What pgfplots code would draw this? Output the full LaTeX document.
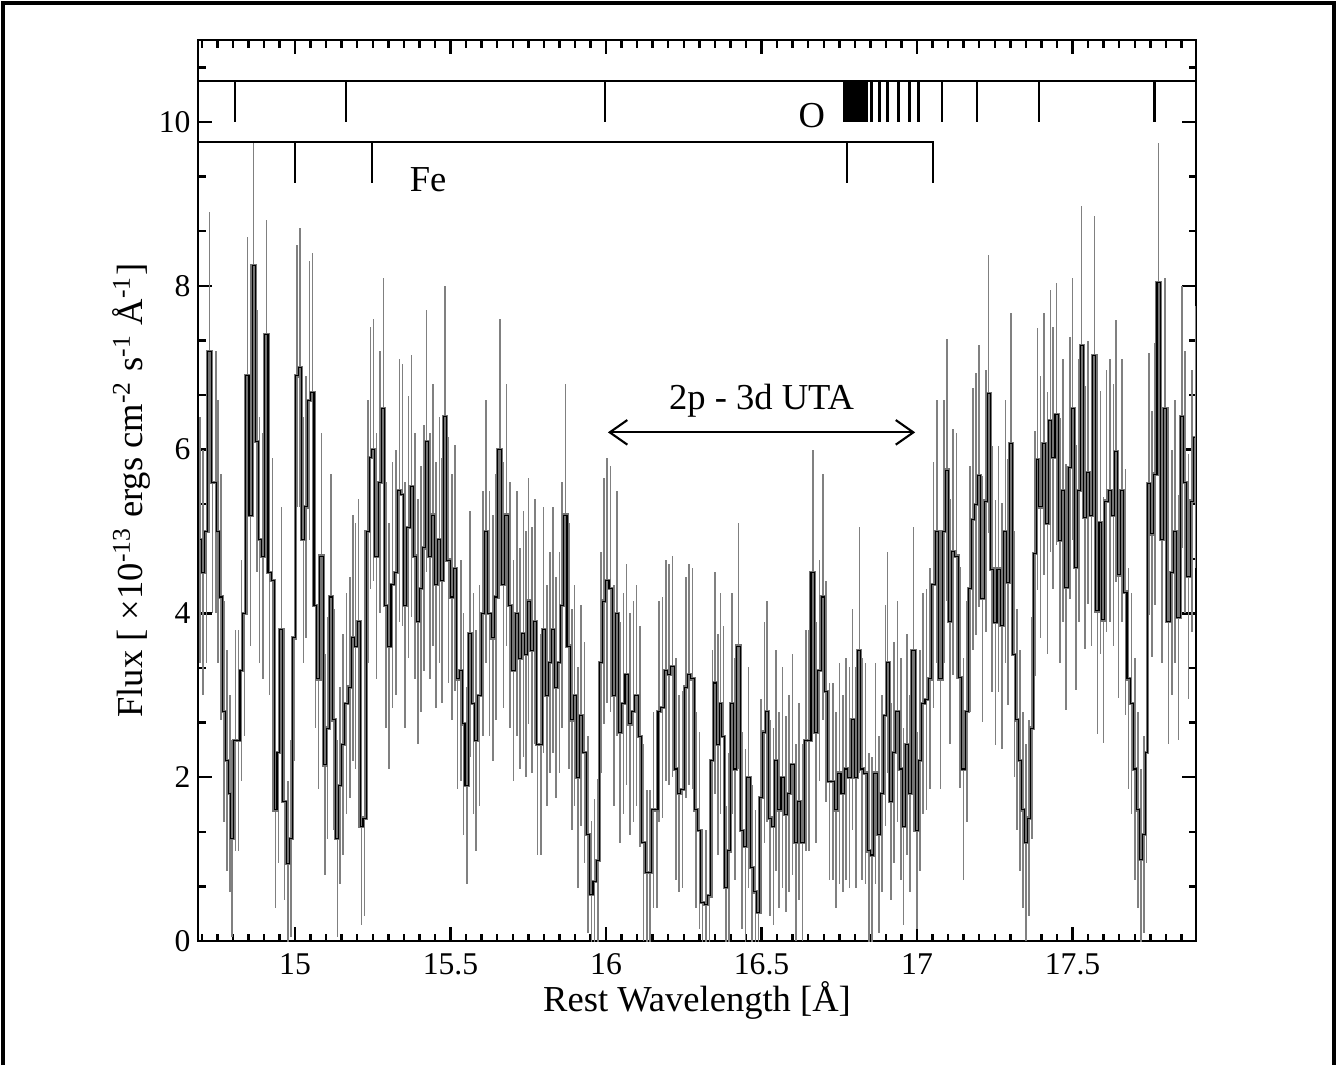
\documentclass[border=0pt]{standalone}
\usepackage{fontspec}
\setmainfont{Liberation Serif}
\usepackage{pgfplots}
\pgfplotsset{compat=1.18}
\usepackage{pgfplotstable}
\usetikzlibrary{arrows.meta}

\pgfplotstableread{
x y e
14.695 4.9 1.5
14.705 4.5 1.5
14.715 5.0 1.6
14.725 7.2 1.7
14.735 5.6 1.6
14.745 5.6 1.6
14.753 5.0 1.6
14.762 4.2 1.5
14.771 2.8 1.35
14.781 2.2 1.35
14.790 1.8 1.2
14.798 1.25 1.2
14.808 2.45 1.35
14.818 2.45 1.35
14.828 3.3 1.35
14.837 4.0 1.5
14.847 6.9 1.7
14.857 5.2 1.6
14.867 8.25 1.5
14.877 6.1 1.6
14.886 4.9 1.5
14.897 4.7 1.5
14.908 7.4 1.4
14.918 4.5 1.5
14.928 4.4 1.5
14.937 1.6 1.2
14.947 2.3 1.35
14.956 3.8 1.5
14.966 1.7 1.2
14.977 0.95 1.0
14.987 1.25 1.2
14.998 3.7 1.5
15.007 6.9 1.6
15.016 7.0 1.7
15.027 4.9 1.5
15.036 5.3 1.6
15.046 6.6 1.7
15.056 6.7 1.7
15.066 4.1 1.5
15.075 3.2 1.35
15.085 4.7 1.5
15.096 2.15 1.35
15.105 2.6 1.35
15.115 4.2 1.5
15.126 2.7 1.35
15.136 1.25 1.2
15.145 1.9 1.2
15.155 2.4 1.35
15.165 2.9 1.35
15.176 3.1 1.35
15.186 3.7 1.5
15.195 3.6 1.5
15.204 3.9 1.5
15.214 1.4 1.2
15.223 1.5 1.2
15.234 5.0 1.6
15.242 5.9 1.6
15.252 6.0 1.6
15.262 4.7 1.5
15.273 5.6 1.6
15.284 6.5 1.6
15.293 4.1 1.5
15.303 3.6 1.5
15.314 4.35 1.5
15.325 4.5 1.5
15.336 5.5 1.6
15.345 5.45 1.6
15.354 4.1 1.5
15.365 5.05 1.6
15.375 5.55 1.6
15.386 4.7 1.5
15.395 3.9 1.5
15.405 4.3 1.5
15.415 4.8 1.5
15.423 6.1 1.6
15.434 4.7 1.5
15.443 5.2 1.6
15.454 4.35 1.5
15.464 4.9 1.5
15.473 4.4 1.5
15.483 6.4 1.6
15.493 4.65 1.5
15.504 4.2 1.5
15.515 4.55 1.5
15.523 3.2 1.35
15.533 3.3 1.35
15.541 2.65 1.35
15.552 1.9 1.2
15.563 3.75 1.5
15.574 2.9 1.35
15.582 2.45 1.35
15.593 3.0 1.35
15.604 4.0 1.5
15.614 5.0 1.6
15.625 4.0 1.5
15.636 3.7 1.5
15.646 4.2 1.5
15.659 6.0 1.6
15.670 4.35 1.5
15.680 5.2 1.6
15.691 4.1 1.5
15.702 3.3 1.35
15.713 4.0 1.5
15.723 3.45 1.35
15.734 3.75 1.5
15.743 3.5 1.5
15.751 4.15 1.5
15.761 3.55 1.5
15.772 3.9 1.5
15.780 2.4 1.35
15.791 2.4 1.35
15.799 3.8 1.5
15.810 3.0 1.35
15.820 3.4 1.35
15.830 3.8 1.5
15.839 3.1 1.35
15.850 3.4 1.35
15.858 4.1 1.5
15.869 5.2 1.6
15.880 3.6 1.5
15.891 2.7 1.35
15.899 3.0 1.35
15.910 2.0 1.35
15.920 2.75 1.35
15.931 2.3 1.35
15.942 1.3 1.2
15.953 0.57 0.9
15.963 0.73 1.0
15.974 0.98 1.0
15.983 3.4 1.35
15.993 4.15 1.5
16.004 4.4 1.5
16.015 4.3 1.5
16.025 3.0 1.35
16.036 4.0 1.5
16.045 2.55 1.35
16.056 2.9 1.35
16.066 3.25 1.35
16.077 2.65 1.35
16.088 2.8 1.35
16.098 3.0 1.35
16.109 2.5 1.35
16.120 1.2 1.2
16.131 0.84 1.0
16.141 0.84 1.0
16.152 1.6 1.2
16.163 1.6 1.2
16.171 2.8 1.35
16.182 2.85 1.35
16.192 3.3 1.35
16.203 3.25 1.35
16.214 3.35 1.35
16.225 2.1 1.35
16.235 1.8 1.2
16.246 1.85 1.2
16.257 3.1 1.35
16.267 3.25 1.35
16.278 3.2 1.35
16.289 1.6 1.2
16.300 1.35 1.2
16.310 0.47 0.9
16.321 0.45 0.9
16.332 0.55 0.9
16.342 2.2 1.35
16.350 3.15 1.35
16.360 2.4 1.35
16.368 2.9 1.35
16.377 2.5 1.35
16.386 0.65 1.0
16.396 1.1 1.2
16.405 2.9 1.35
16.415 2.1 1.35
16.426 3.6 1.5
16.437 1.35 1.2
16.448 1.15 1.2
16.458 2.0 1.35
16.469 0.9 1.0
16.480 0.6 1.0
16.490 0.35 0.9
16.499 1.75 1.2
16.510 2.55 1.35
16.518 2.8 1.35
16.527 1.5 1.2
16.538 1.4 1.2
16.546 2.2 1.35
16.557 1.6 1.2
16.568 2.0 1.35
16.578 1.55 1.2
16.589 1.8 1.2
16.600 2.15 1.35
16.610 1.2 1.2
16.621 1.7 1.2
16.632 1.2 1.2
16.643 2.45 1.35
16.653 2.45 1.35
16.665 4.5 1.5
16.675 2.55 1.35
16.686 3.3 1.35
16.697 4.2 1.5
16.708 3.05 1.35
16.718 1.95 1.2
16.729 1.95 1.2
16.740 1.6 1.2
16.750 2.05 1.35
16.761 1.8 1.2
16.772 2.1 1.35
16.783 2.0 1.35
16.793 2.7 1.35
16.804 2.0 1.35
16.815 3.55 1.5
16.823 2.1 1.35
16.834 2.05 1.35
16.845 1.1 1.2
16.855 1.05 1.2
16.866 2.05 1.35
16.877 1.3 1.2
16.888 1.8 1.2
16.898 2.75 1.35
16.905 3.4 1.35
16.916 1.7 1.2
16.926 2.3 1.35
16.937 2.8 1.35
16.948 2.1 1.35
16.956 1.4 1.2
16.967 2.4 1.35
16.978 1.8 1.2
16.988 3.55 1.5
16.999 1.35 1.2
17.010 2.2 1.35
17.020 2.9 1.35
17.031 2.95 1.35
17.042 3.2 1.35
17.053 4.35 1.5
17.064 5.0 1.6
17.075 3.2 1.35
17.086 5.0 1.6
17.097 5.75 1.6
17.106 3.9 1.5
17.116 4.75 1.5
17.127 4.7 1.5
17.138 3.22 1.35
17.149 2.1 1.35
17.160 2.8 1.35
17.170 4.3 1.5
17.180 5.15 1.6
17.190 5.33 1.6
17.199 5.68 1.6
17.211 4.18 1.5
17.222 5.37 1.6
17.230 6.68 1.7
17.241 4.54 1.5
17.252 3.89 1.5
17.262 4.54 1.5
17.273 3.85 1.5
17.284 5.0 1.6
17.293 4.38 1.5
17.302 6.07 1.6
17.313 3.5 1.5
17.322 2.7 1.35
17.331 2.2 1.35
17.340 1.6 1.2
17.350 1.2 1.2
17.360 1.5 1.2
17.370 2.6 1.35
17.379 4.73 1.5
17.387 5.88 1.6
17.397 5.3 1.6
17.408 6.07 1.6
17.419 5.1 1.6
17.429 6.35 1.6
17.438 5.9 1.6
17.449 6.43 1.6
17.459 4.89 1.5
17.470 5.5 1.6
17.479 4.32 1.5
17.492 5.78 1.6
17.500 6.5 1.6
17.511 4.56 1.5
17.520 5.5 1.6
17.529 7.27 1.7
17.540 5.17 1.6
17.550 5.72 1.6
17.561 5.2 1.6
17.570 7.15 1.7
17.580 4.03 1.5
17.590 5.11 1.6
17.599 3.92 1.5
17.609 5.37 1.6
17.620 5.5 1.6
17.631 5.2 1.6
17.640 5.98 1.6
17.648 4.47 1.5
17.659 5.5 1.6
17.670 4.26 1.5
17.680 3.2 1.35
17.690 2.9 1.35
17.700 2.1 1.35
17.710 1.6 1.2
17.720 1.0 1.1
17.730 1.3 1.2
17.738 2.3 1.35
17.745 5.58 1.6
17.755 4.97 1.5
17.766 5.7 1.6
17.777 8.04 1.7
17.787 4.9 1.5
17.798 6.5 1.6
17.809 3.9 1.5
17.820 4.5 1.5
17.830 5.0 1.6
17.841 3.95 1.5
17.852 6.4 1.6
17.862 5.6 1.6
17.873 4.45 1.5
17.884 5.37 1.6
17.895 6.15 1.6
}\spec

\begin{document}
\begin{tikzpicture}[x=1cm,y=1cm]
\useasboundingbox (0,0) rectangle (13.37,-10.65);
\draw[line width=0.9pt] (0.03,-10.65) -- (0.03,-0.03) -- (13.34,-0.03) -- (13.34,-10.65);
\begin{axis}[
  at={(1.98cm,-9.41cm)}, anchor=south west,
  scale only axis, width=9.98cm, height=9.01cm,
  xmin=14.688, xmax=17.897, ymin=0, ymax=11,
  xtick={15,15.5,16,16.5,17,17.5},
  minor xtick={14.7,14.75,...,17.86},
  ytick={0,2,4,6,8,10},
  minor ytick={0.6667,1.3333,2.6667,3.3333,4.6667,5.3333,6.6667,7.3333,8.6667,9.3333,10.6667},
  tick align=inside, xtick pos=both, ytick pos=both,
  major tick length=0.14cm, minor tick length=0.075cm,
  axis line style={line width=0.8pt},
  every tick/.style={black, line width=0.7pt},
  /pgf/number format/assume math mode=true,
  ticklabel style={font=\fontsize{9}{10}\selectfont},
  yticklabel style={xshift=1.4pt},
  xlabel={Rest Wavelength [Å]},
  ylabel={Flux [ ×10\textsuperscript{-13} ergs cm\textsuperscript{-2} s\textsuperscript{-1}  Å\textsuperscript{-1}]},
  label style={font=\fontsize{10.4}{12}\selectfont},
  xlabel style={yshift=5pt},
  ylabel style={yshift=-4.5pt},
  clip=true,
]
% spectrum: error bars and histogram
\addplot[draw=none, no marks, forget plot,
  error bars/.cd, y dir=both, y explicit, error mark=none,
  error bar style={black!50, line width=0.45pt}]
  table[x=x, y=y, y error=e] {\spec};
\addplot[black!55, line width=0.95pt, const plot mark mid, no marks, forget plot]
  table[x=x, y=y] {\spec};
\addplot[black, line width=0.3pt, const plot mark mid, no marks, forget plot]
  table[x=x, y=y] {\spec};

% O line series
\addplot[black, line width=0.6pt, no marks] coordinates {(14.688,10.5) (17.897,10.5)};
\addplot[draw=none, no marks,
  error bars/.cd, y dir=minus, y fixed=0.5, error mark=none,
  error bar style={black, line width=0.7pt}]
  coordinates {(14.807,10.5) (15.164,10.5) (15.997,10.5) (16.826,10.5) (16.830,10.5) (16.833,10.5)
  (16.838,10.5) (16.854,10.5) (16.879,10.5) (16.905,10.5) (16.940,10.5) (16.975,10.5)
  (17.004,10.5) (17.081,10.5) (17.192,10.5) (17.392,10.5) (17.763,10.5)};
\addplot[fill=black, draw=none, no marks] coordinates {(16.763,10) (16.823,10) (16.823,10.5) (16.763,10.5)};

% Fe line series
\addplot[black, line width=0.6pt, no marks] coordinates {(14.688,9.75) (17.05,9.75) (17.05,9.25)};
\addplot[draw=none, no marks,
  error bars/.cd, y dir=minus, y fixed=0.5, error mark=none,
  error bar style={black, line width=0.7pt}]
  coordinates {(15.0,9.75) (15.248,9.75) (16.775,9.75)};

\node[font=\fontsize{10.4}{12}\selectfont] at (axis cs:16.662,10.08) {O};
\node[font=\fontsize{10.4}{12}\selectfont] at (axis cs:15.428,9.30) {Fe};

\draw[line width=0.6pt, {Straight Barb[length=5pt,width=7pt]}-{Straight Barb[length=5pt,width=7pt]}]
  (axis cs:16.006,6.21) -- (axis cs:16.994,6.21);
\node[font=\fontsize{10.4}{12}\selectfont] at (axis cs:16.5,6.6) {2p - 3d UTA};
\end{axis}
\end{tikzpicture}
\end{document}
